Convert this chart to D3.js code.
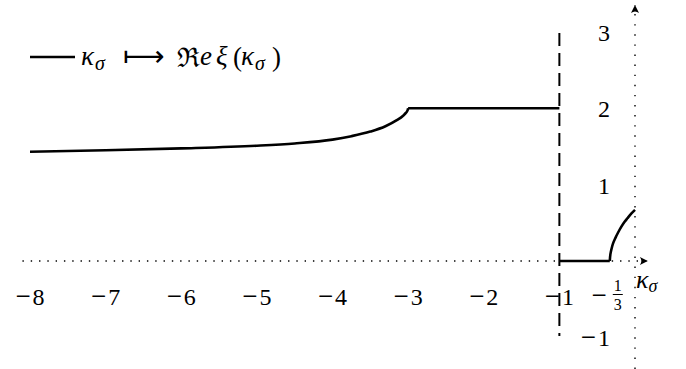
<!DOCTYPE html>
<html>
<head>
<meta charset="utf-8">
<script src="https://cdn.jsdelivr.net/npm/d3@7"></script>
<style>
  body { margin: 0; background: #fff; }
</style>
</head>
<body>
<div id="chart"></div>
<script>
/* values */
var branchKappa = [-8, -7, -6, -5, -4.5, -4, -3.75, -3.5, -3.3, -3.15, -3.07, -3.03, -3.005, -3];
var branchRe    = [1.43, 1.45, 1.475, 1.51, 1.54, 1.59, 1.635, 1.695, 1.765, 1.845, 1.9, 1.94, 1.98, 2];
var flatKappa   = [-3, -1];
var flatRe      = [2, 2];
var lowKappa    = [-1, -1/3];
var lowRe       = [0, 0];
var rootKappa   = [-1/3, -0.325, -0.31, -0.29, -0.26, -0.22, -0.18, -0.14, -0.1, -0.05, 0];
var rootRe      = [0, 0.09, 0.16, 0.23, 0.3, 0.38, 0.45, 0.51, 0.56, 0.62, 0.67];
var xTicks = [-8, -7, -6, -5, -4, -3, -2, -1];
var yTicks = [1, 2, 3, -1];

var width = 686, height = 369;

var svg = d3.select("#chart").append("svg")
	.attr("width", width)
	.attr("height", height)
	.style("font-family", "'Liberation Serif', 'DejaVu Serif', serif");

var x = d3.scaleLinear().domain([-8, 0]).range([30, 635]);
var y = d3.scaleLinear().domain([0, 2]).range([261, 108.3]);

// arrow head
svg.append("defs").append("marker")
	.attr("id", "arr")
	.attr("viewBox", "0 0 10 10")
	.attr("refX", 9).attr("refY", 5)
	.attr("markerWidth", 10).attr("markerHeight", 10)
	.attr("markerUnits", "userSpaceOnUse")
	.attr("orient", "auto")
	.append("path")
	.attr("d", "M1,1 Q4,5 1,9 L9,5 Z")
	.attr("fill", "#000");

// dotted axes
svg.append("line")
	.attr("x1", x(-8.1)).attr("x2", x(0.17))
	.attr("y1", y(0)).attr("y2", y(0))
	.attr("stroke", "#000").attr("stroke-width", 1.4)
	.attr("stroke-dasharray", "1.4 6.9")
	.attr("marker-end", "url(#arr)");

svg.append("line")
	.attr("x1", x(0)).attr("x2", x(0))
	.attr("y1", height).attr("y2", 5)
	.attr("stroke", "#000").attr("stroke-width", 1.4)
	.attr("stroke-dasharray", "1.4 8.7")
	.attr("marker-end", "url(#arr)");

// dashed line at kappa = -1
svg.append("line")
	.attr("x1", x(-1)).attr("x2", x(-1))
	.attr("y1", 33).attr("y2", 336)
	.attr("stroke", "#000").attr("stroke-width", 2)
	.attr("stroke-dasharray", "13 7");

// curves
var line = d3.line()
	.x(function(d) { return x(d[0]); })
	.y(function(d) { return y(d[1]); })
	.curve(d3.curveMonotoneX);

function addBranch(ks, vs, c) {
	svg.append("path")
		.datum(d3.zip(ks, vs))
		.attr("d", c ? line.curve(c) : line)
		.attr("fill", "none")
		.attr("stroke", "#000")
		.attr("stroke-width", 2.6)
		.attr("stroke-linejoin", "round");
}
addBranch(branchKappa, branchRe);
addBranch(flatKappa, flatRe);
addBranch(lowKappa, lowRe);
addBranch(rootKappa, rootRe, d3.curveMonotoneY);

// tick labels
function numLabel(sel, v) {
	if (v < 0) {
		sel.append("tspan").attr("font-size", 27).text("\u2212");
		sel.append("tspan").attr("dx", 2).text(Math.abs(v));
	} else {
		sel.text(v);
	}
}

xTicks.forEach(function(v) {
	var t = svg.append("text")
		.attr("x", x(v))
		.attr("y", 305)
		.attr("text-anchor", "middle")
		.attr("font-size", 24);
	numLabel(t, v);
});

yTicks.forEach(function(v) {
	var t = svg.append("text")
		.attr("x", x(0) - 25)
		.attr("y", y(v) + 9)
		.attr("text-anchor", "end")
		.attr("font-size", 24);
	numLabel(t, v);
});

// -1/3 label
var fx = x(-1/3);
svg.append("text")
	.attr("x", fx - 3).attr("y", 304)
	.attr("text-anchor", "end")
	.attr("font-size", 27)
	.text("\u2212");
svg.append("text")
	.attr("x", fx + 8).attr("y", 291)
	.attr("text-anchor", "middle")
	.attr("font-size", 16).text("1");
svg.append("line")
	.attr("x1", fx + 3).attr("x2", fx + 13)
	.attr("y1", 294.5).attr("y2", 294.5)
	.attr("stroke", "#000").attr("stroke-width", 1);
svg.append("text")
	.attr("x", fx + 8).attr("y", 310)
	.attr("text-anchor", "middle")
	.attr("font-size", 16).text("3");

// axis name
var kx = svg.append("text")
	.attr("x", x(0) + 1).attr("y", 288)
	.attr("font-size", 26).attr("font-style", "italic")
	.text("\u03ba");
kx.append("tspan").attr("dy", 4).attr("font-size", 18).text("\u03c3");

// legend
svg.append("line")
	.attr("x1", 30).attr("x2", 75)
	.attr("y1", 57).attr("y2", 57)
	.attr("stroke", "#000").attr("stroke-width", 2.6);

function piece(px, py, s, size, italic, fam) {
	var t = svg.append("text")
		.attr("x", px).attr("y", py)
		.attr("font-size", size)
		.text(s);
	if (italic) t.attr("font-style", "italic");
	if (fam) t.style("font-family", fam);
	return t;
}
piece(81, 65, "\u03ba", 27, true);
piece(95, 70, "\u03c3", 20, true);
piece(123, 66, "\u27fc", 29, false, "DejaVu Sans");
piece(177, 67, "\u211c", 27, false, "DejaVu Serif");
piece(200, 65, "e", 27, true);
piece(216, 65, "\u03be", 27, true);
piece(233, 66, "(", 27, false);
piece(241, 65, "\u03ba", 27, true);
piece(255, 70, "\u03c3", 20, true);
piece(272, 66, ")", 27, false);
</script>
</body>
</html>
